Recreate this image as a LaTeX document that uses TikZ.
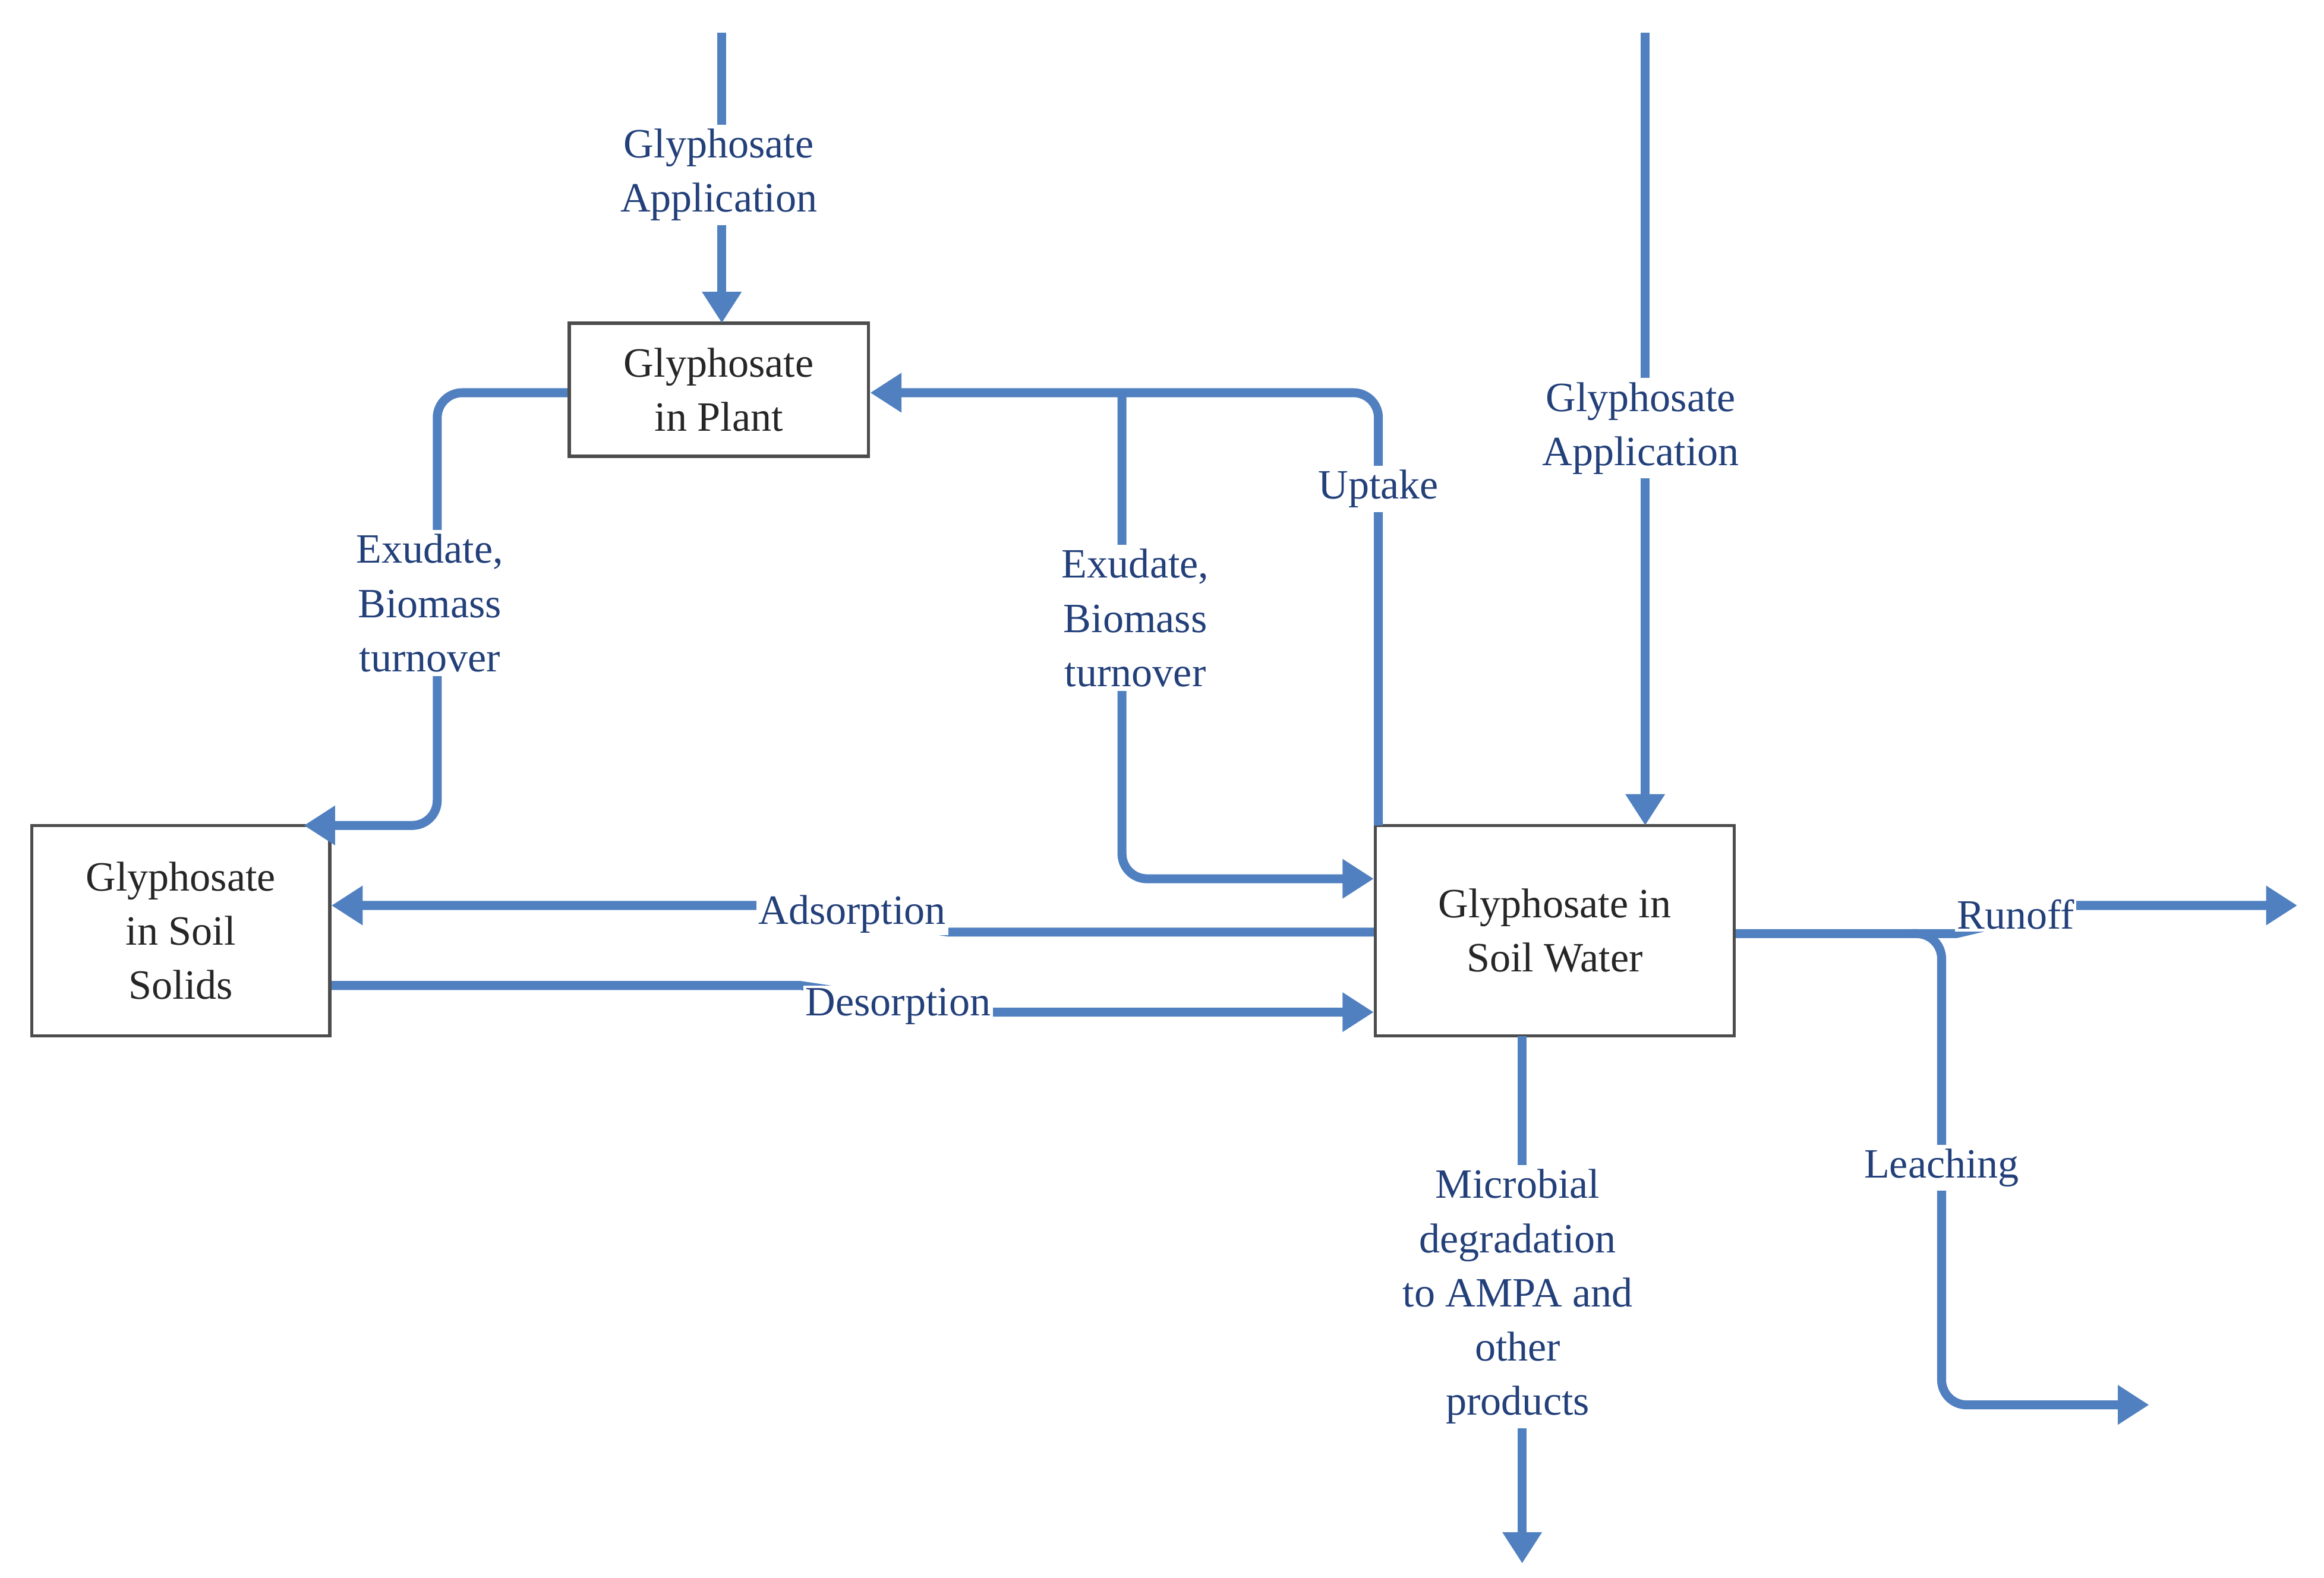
\documentclass[tikz,border=0pt]{standalone}
\usepackage{fontspec}
\setmainfont{Liberation Serif}
\usetikzlibrary{arrows.meta}
\definecolor{ln}{HTML}{5080C0}
\definecolor{tx}{HTML}{23407A}
\begin{document}
\begin{tikzpicture}[x=0.025cm,y=-0.025cm,
  box/.style={draw=black!70,line width=1.6pt,fill=white,align=center,text=black!85,font=\fontsize{20}{26}\selectfont,inner sep=0pt},
  lab/.style={fill=white,align=center,text=tx,font=\fontsize{20}{26}\selectfont,inner sep=2pt},
  fl/.style={draw=ln,line width=4.3pt,rounded corners=12pt},
  ar/.style={fl,-{Triangle[width=18pt,length=15pt]}}]
\useasboundingbox (0,0) rectangle (1568,1064.5);
\node[box,minimum width=202*0.025cm,minimum height=90*0.025cm] (plant) at (485,263) {Glyphosate\\in Plant};
\node[box,minimum width=201*0.025cm,minimum height=142*0.025cm] (solids) at (122,628) {Glyphosate\\in Soil\\Solids};
\node[box,minimum width=242*0.025cm,minimum height=142*0.025cm] (water) at (1049,628) {Glyphosate in\\Soil Water};
\coordinate (t1) at (487,22);
\coordinate (t2) at (1110,22);
\coordinate (mb) at (1027,1055);
\coordinate (ro) at (1550,611);
\coordinate (le) at (1450,948);
% applications
\draw[ar] (t1) -- (487,218);
\node[lab] at (485,118) {Glyphosate\\Application};
\draw[ar] (t2) -- (1110,557);
\node[lab] at (1107,289) {Glyphosate\\Application};
% uptake
\draw[ar] (930,557) -- (930,265) -- (plant.east|-0,265);
\node[lab] at (930,330) {Uptake};
% exudate right
\draw[ar] (757,265) -- (757,593) -- (water.west|-0,593);
\node[lab] at (766,417) {Exudate,\\Biomass\\turnover};
% exudate left
\draw[ar] (plant.west|-0,265) -- (295,265) -- (295,557) -- (205,557);
\node[lab] at (290,407) {Exudate,\\Biomass\\turnover};
% adsorption
\draw[ar,rounded corners=0pt] (water.west|-0,629) -- (640,629) -- (520,611) -- (solids.east|-0,611);
\node[lab,inner sep=1pt] at (575,617) {Adsorption};
% desorption
\draw[ar,rounded corners=0pt] (solids.east|-0,665) -- (540,665) -- (660,683) -- (water.west|-0,683);
\node[lab,inner sep=1pt] at (606,679) {Desorption};
% runoff and leaching
\draw[ar,rounded corners=0pt] (water.east|-0,630) -- (1320,630) -- (1400,611) -- (ro);
\node[lab,inner sep=1pt] at (1360,617) {Runoff};
\draw[ar] (1290,630) -- (1310,630) -- (1310,948) -- (le);
\node[lab] at (1310,788) {Leaching};
% microbial
\draw[ar] (1027,699) -- (mb);
\node[lab] at (1024,875) {Microbial\\degradation\\to AMPA and\\other\\products};
\end{tikzpicture}
\end{document}
